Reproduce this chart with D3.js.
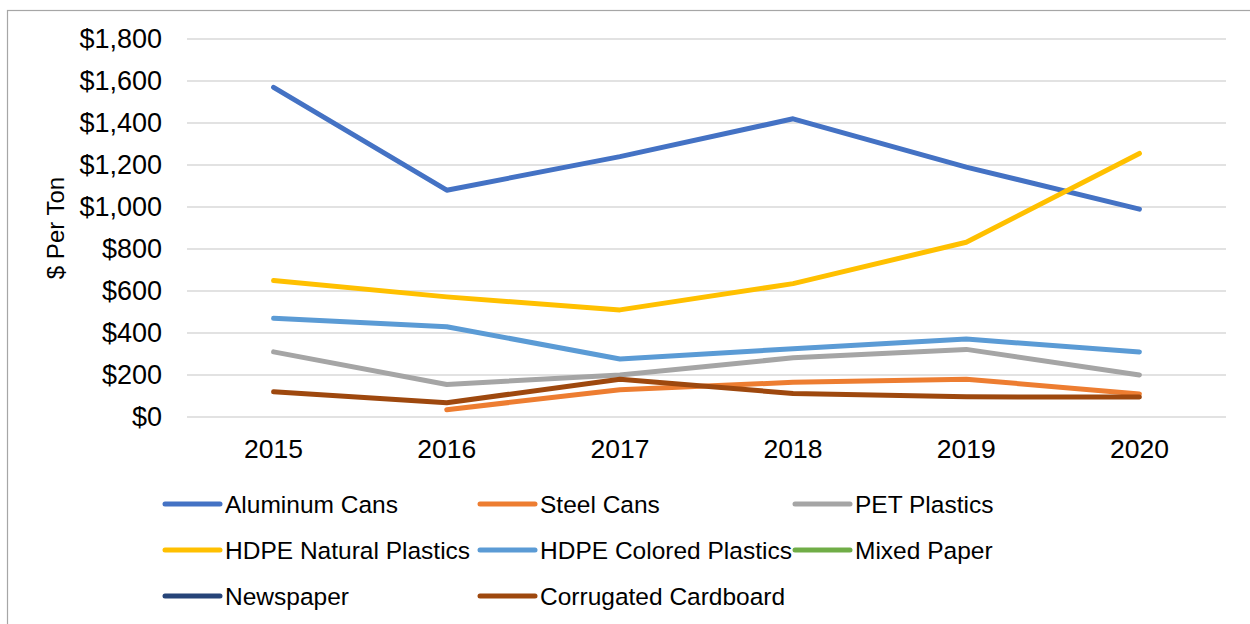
<!DOCTYPE html>
<html><head><meta charset="utf-8">
<script src="https://cdn.jsdelivr.net/npm/d3@7"></script>
<style>body{margin:0;background:#fff;}svg{display:block;font-family:"Liberation Sans",Arial,sans-serif;}</style>
</head><body><svg id="c" width="1250" height="624"></svg>
<script>
const years = ["2015","2016","2017","2018","2019","2020"];
const yTicks = [0,200,400,600,800,1000,1200,1400,1600,1800];
const seriesNames = ["Aluminum Cans","Steel Cans","PET Plastics","HDPE Natural Plastics","HDPE Colored Plastics","Mixed Paper","Newspaper","Corrugated Cardboard"];
const colors = ["#4472C4","#ED7D31","#A5A5A5","#FFC000","#5B9BD5","#70AD47","#264478","#9E480E"];
const aluminumCans = [1570,1080,1240,1420,1190,990];
const steelCans = [null,35,130,165,180,110];
const petPlastics = [310,155,200,282,322,200];
const hdpeNatural = [650,572,510,635,832,1255];
const hdpeColored = [470,430,276,325,371,310];
const mixedPaper = [null,null,null,null,null,null];
const newspaper = [null,null,null,null,null,null];
const corrugated = [120,68,180,112,96,95];
const values = [aluminumCans,steelCans,petPlastics,hdpeNatural,hdpeColored,mixedPaper,newspaper,corrugated];

const svg = d3.select("#c");
svg.append("rect").attr("x",7.5).attr("y",10.5).attr("width",1300).attr("height",700)
  .attr("fill","#fff").attr("stroke","#a6a6a6").attr("stroke-width",1.2);

const x = d3.scaleBand().domain(years).range([187,1226]);
const y = d3.scaleLinear().domain([0,1800]).range([417,39]);

// gridlines
svg.append("g").selectAll("line").data(yTicks).join("line")
  .attr("x1",187).attr("x2",1226).attr("y1",d=>y(d)).attr("y2",d=>y(d))
  .attr("stroke","#d9d9d9").attr("stroke-width",1.5);

// y axis
const yAxis = svg.append("g").attr("transform","translate(187,0)")
  .call(d3.axisLeft(y).tickValues(yTicks).tickSize(0).tickPadding(25).tickFormat(d=>"$"+d3.format(",")(d)));
yAxis.select(".domain").remove();
yAxis.selectAll("text").attr("font-size",27).attr("fill","#000").attr("font-family","Liberation Sans, Arial, sans-serif");

// x axis
const xAxis = svg.append("g").attr("transform","translate(0,417)")
  .call(d3.axisBottom(x).tickSize(0).tickPadding(22.5));
xAxis.select(".domain").remove();
xAxis.selectAll("text").attr("font-size",26.5).attr("fill","#000").attr("font-family","Liberation Sans, Arial, sans-serif");

// y title
svg.append("text").attr("transform","translate(64,228) rotate(-90)").attr("text-anchor","middle")
  .attr("font-size",24).attr("fill","#000").text("$ Per Ton");

// lines
const line = d3.line().defined(d=>d.v!=null).x(d=>x(d.year)+x.bandwidth()/2).y(d=>y(d.v));
values.forEach((vals,i)=>{
  const pts = vals.map((v,j)=>({year:years[j],v}));
  svg.append("path").datum(pts).attr("d",line).attr("fill","none")
    .attr("stroke",colors[i]).attr("stroke-width",5).attr("stroke-linecap","round").attr("stroke-linejoin","round");
});

// legend
const colX = [165,480,795];
const rowY = [504,550,596];
const lg = svg.append("g");
seriesNames.forEach((n,i)=>{
  const cx = colX[i%3], cy = rowY[Math.floor(i/3)];
  lg.append("line").attr("x1",cx).attr("x2",cx+55).attr("y1",cy).attr("y2",cy)
    .attr("stroke",colors[i]).attr("stroke-width",5).attr("stroke-linecap","round");
  lg.append("text").attr("x",cx+60).attr("y",cy).attr("dy","0.36em").attr("font-size",24.5).attr("fill","#000").text(n);
});
</script></body></html>
